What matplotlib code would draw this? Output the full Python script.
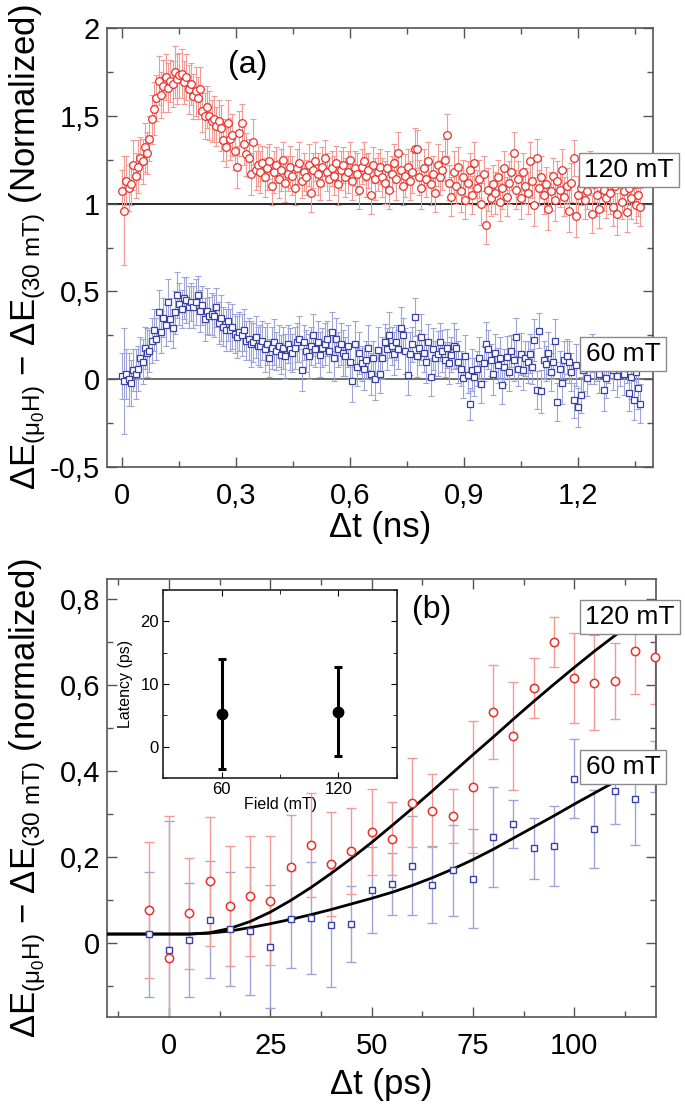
import numpy as np
import matplotlib
matplotlib.use('Agg')
import matplotlib.pyplot as plt
from matplotlib.ticker import MultipleLocator, FuncFormatter

plt.rcParams['font.family'] = ['Liberation Sans', 'DejaVu Sans']
plt.rcParams['mathtext.fontset'] = 'custom'
plt.rcParams['mathtext.rm'] = 'Liberation Sans'
plt.rcParams['mathtext.it'] = 'Liberation Sans'
plt.rcParams['mathtext.bf'] = 'Liberation Sans:bold'
plt.rcParams['mathtext.sf'] = 'Liberation Sans'

# ---------------- Panel (a) data ----------------
red_a = [
    1.07, 0.96, 1.13, 1.09, 1.11, 1.22, 1.16, 1.21, 1.26, 1.24, 1.32, 1.29, 1.37, 1.48, 1.54,
    1.60, 1.70, 1.62, 1.67, 1.72, 1.66, 1.70, 1.68, 1.75, 1.71, 1.73, 1.74, 1.69, 1.72, 1.65,
    1.68, 1.61, 1.64, 1.60, 1.65, 1.53, 1.50, 1.55, 1.50, 1.47, 1.48, 1.44, 1.47, 1.43, 1.36,
    1.32, 1.46, 1.37, 1.39, 1.30, 1.21, 1.40, 1.46, 1.34, 1.28, 1.26, 1.17, 1.35, 1.19, 1.22,
    1.18, 1.23, 1.15, 1.20, 1.24, 1.10, 1.18, 1.22, 1.14, 1.19, 1.25, 1.12, 1.17, 1.21, 1.16,
    1.09, 1.20, 1.23, 1.13, 1.18, 1.15, 1.22, 1.06, 1.19, 1.24, 1.17, 1.12, 1.21, 1.26, 1.18,
    1.14, 1.20, 1.16, 1.23, 1.11, 1.19, 1.22, 1.15, 1.18, 1.25, 1.13, 1.20, 1.17, 1.08, 1.21,
    1.24, 1.16, 1.19, 1.05, 1.22, 1.14, 1.18, 1.21, 1.15, 1.12, 1.20, 1.08, 1.17, 1.23, 1.14,
    1.29, 1.19, 1.10, 1.16, 1.21, 1.13, 1.18, 1.31, 1.31, 1.15, 1.09, 1.20, 1.14, 1.24, 1.11,
    1.17, 1.06, 1.22, 1.15, 1.19, 1.25, 1.39, 1.12, 1.04, 1.18, 1.10, 1.21, 1.07, 1.15, 1.02,
    1.12, 1.19, 1.05, 1.23, 1.09, 1.14, 1.00, 1.17, 0.88, 1.08, 1.03, 1.11, 1.06, 1.15, 1.01,
    1.09, 1.20, 1.04, 1.12, 1.18, 1.29, 1.08, 1.14, 1.03, 1.18, 1.10, 1.06, 1.24, 1.13, 0.99,
    1.26, 1.09, 1.15, 1.05, 1.11, 0.97, 1.07, 1.16, 1.02, 1.13, 1.08, 1.19, 1.04, 1.10, 0.96,
    1.12, 1.26, 0.93, 1.05, 1.09, 1.15, 1.02, 1.07, 1.18, 0.94, 1.11, 1.05, 0.97, 1.13, 1.08,
    1.03, 1.16, 1.06, 0.98, 1.10, 0.94, 1.12, 1.01, 1.07, 0.95, 1.09, 1.03, 1.11, 0.99, 1.05,
    0.98]
red_a_err = [
    0.12, 0.31, 0.14, 0.13, 0.12, 0.14, 0.13, 0.15, 0.12, 0.13, 0.14, 0.12, 0.13, 0.14, 0.15,
    0.13, 0.14, 0.13, 0.15, 0.13, 0.14, 0.12, 0.13, 0.15, 0.14, 0.13, 0.14, 0.12, 0.13, 0.14,
    0.12, 0.13, 0.14, 0.12, 0.13, 0.12, 0.13, 0.12, 0.14, 0.12, 0.13, 0.11, 0.12, 0.13, 0.12,
    0.11, 0.13, 0.12, 0.12, 0.11, 0.12, 0.13, 0.11, 0.12, 0.12, 0.11, 0.12, 0.13, 0.11, 0.12,
    0.12, 0.10, 0.11, 0.12, 0.10, 0.11, 0.12, 0.10, 0.11, 0.12, 0.10, 0.11, 0.10, 0.12, 0.11,
    0.10, 0.11, 0.12, 0.10, 0.11, 0.10, 0.12, 0.11, 0.10, 0.11, 0.12, 0.10, 0.11, 0.10, 0.11,
    0.12, 0.10, 0.11, 0.10, 0.12, 0.11, 0.10, 0.11, 0.12, 0.10, 0.11, 0.10, 0.12, 0.11, 0.10,
    0.11, 0.12, 0.10, 0.11, 0.10, 0.12, 0.11, 0.10, 0.11, 0.12, 0.10, 0.11, 0.10, 0.11, 0.12,
    0.12, 0.10, 0.11, 0.12, 0.10, 0.11, 0.12, 0.12, 0.11, 0.10, 0.12, 0.11, 0.10, 0.11, 0.12,
    0.10, 0.11, 0.12, 0.10, 0.11, 0.12, 0.12, 0.10, 0.11, 0.12, 0.10, 0.11, 0.12, 0.10, 0.11,
    0.12, 0.10, 0.11, 0.12, 0.10, 0.11, 0.12, 0.10, 0.11, 0.12, 0.10, 0.11, 0.12, 0.10, 0.11,
    0.12, 0.10, 0.11, 0.12, 0.10, 0.12, 0.11, 0.10, 0.12, 0.11, 0.10, 0.12, 0.11, 0.10, 0.12,
    0.11, 0.10, 0.12, 0.11, 0.10, 0.12, 0.11, 0.10, 0.12, 0.11, 0.10, 0.12, 0.11, 0.10, 0.12,
    0.11, 0.10, 0.12, 0.11, 0.10, 0.12, 0.11, 0.10, 0.12, 0.11, 0.10, 0.12, 0.11, 0.10, 0.12,
    0.11, 0.10, 0.12, 0.11, 0.10, 0.12, 0.11, 0.10, 0.12, 0.11, 0.10, 0.12, 0.11, 0.10, 0.12,
    0.11]
blue_a = [
    0.02, -0.01, 0.03, 0.00, -0.02, 0.05, 0.03, 0.06, 0.12, 0.10, 0.18, 0.15, 0.16, 0.22, 0.28,
    0.23, 0.38, 0.27, 0.35, 0.31, 0.44, 0.34, 0.29, 0.38, 0.48, 0.43, 0.40, 0.46, 0.45, 0.41,
    0.44, 0.41, 0.44, 0.48, 0.39, 0.42, 0.34, 0.39, 0.36, 0.37, 0.36, 0.41, 0.32, 0.35, 0.30,
    0.28, 0.33, 0.28, 0.30, 0.26, 0.24, 0.27, 0.25, 0.28, 0.22, 0.23, 0.20, 0.21, 0.24, 0.19,
    0.19, 0.22, 0.17, 0.20, 0.12, 0.18, 0.21, 0.16, 0.19, 0.14, 0.18, 0.13, 0.20, 0.17, 0.15,
    0.18, 0.21, 0.23, 0.05, 0.21, 0.16, 0.13, 0.19, 0.25, 0.17, 0.21, 0.14, 0.18, 0.20, 0.23,
    0.16, 0.27, 0.12, 0.23, 0.17, 0.20, 0.15, 0.13, 0.19, 0.10, -0.01, 0.20, 0.07, 0.15, 0.09,
    0.06, 0.11, 0.18, 0.03, 0.12, 0.00, 0.165, 0.032, 0.12, 0.212, 0.17, 0.25, 0.19, 0.146, 0.21,
    0.17, 0.289, 0.25, 0.16, 0.022, 0.146, 0.20, 0.355, 0.13, 0.18, 0.24, 0.15, 0.10, 0.212, 0.013,
    0.17, 0.12, 0.146, 0.212, 0.16, 0.11, 0.175, 0.09, 0.14, 0.19, 0.175, 0.10, 0.06, 0.004, 0.13,
    0.023, -0.14, 0.05, 0.013, 0.06, 0.12, -0.025, 0.09, 0.203, 0.17, 0.11, 0.032, 0.15, 0.08, 0.12,
    -0.034, 0.07, 0.127, 0.042, 0.16, 0.108, 0.24, 0.06, 0.142, 0.05, 0.12, 0.099, 0.146, 0.07, 0.222,
    -0.062, 0.275, -0.07, 0.11, 0.089, 0.15, 0.042, 0.10, 0.22, -0.13, 0.06, -0.024, 0.108, 0.13, 0.099,
    0.04, -0.12, 0.08, -0.16, -0.09, 0.05, 0.12, 0.004, 0.09, 0.15, 0.07, 0.11, 0.03, 0.13, -0.06,
    0.004, 0.08, 0.12, 0.05, 0.10, 0.02, 0.07, 0.14, 0.03, 0.09, -0.08, 0.01, -0.12, 0.04, -0.05,
    -0.14]
blue_a_err = [
    0.13, 0.30, 0.14, 0.15, 0.13, 0.12, 0.14, 0.13, 0.12, 0.13, 0.12, 0.14, 0.12, 0.13, 0.12,
    0.12, 0.13, 0.12, 0.11, 0.12, 0.13, 0.12, 0.11, 0.12, 0.13, 0.12, 0.11, 0.12, 0.13, 0.12,
    0.11, 0.12, 0.13, 0.11, 0.12, 0.11, 0.12, 0.13, 0.11, 0.12, 0.12, 0.11, 0.12, 0.13, 0.11,
    0.12, 0.11, 0.12, 0.13, 0.11, 0.12, 0.11, 0.12, 0.12, 0.11, 0.12, 0.13, 0.11, 0.12, 0.11,
    0.12, 0.11, 0.13, 0.12, 0.11, 0.12, 0.13, 0.11, 0.12, 0.11, 0.12, 0.13, 0.11, 0.12, 0.11,
    0.12, 0.11, 0.13, 0.12, 0.10, 0.12, 0.13, 0.11, 0.12, 0.10, 0.12, 0.13, 0.11, 0.12, 0.10,
    0.12, 0.11, 0.13, 0.12, 0.10, 0.12, 0.13, 0.11, 0.12, 0.10, 0.12, 0.13, 0.11, 0.12, 0.10,
    0.12, 0.11, 0.13, 0.12, 0.10, 0.12, 0.13, 0.11, 0.12, 0.10, 0.12, 0.13, 0.11, 0.12, 0.10,
    0.11, 0.12, 0.10, 0.13, 0.11, 0.12, 0.10, 0.11, 0.12, 0.10, 0.13, 0.11, 0.12, 0.10, 0.11,
    0.12, 0.10, 0.13, 0.11, 0.12, 0.10, 0.11, 0.12, 0.10, 0.13, 0.11, 0.12, 0.10, 0.11, 0.12,
    0.10, 0.09, 0.12, 0.11, 0.10, 0.12, 0.11, 0.10, 0.12, 0.11, 0.09, 0.12, 0.11, 0.10, 0.12,
    0.11, 0.10, 0.12, 0.11, 0.09, 0.12, 0.11, 0.10, 0.12, 0.11, 0.10, 0.12, 0.11, 0.10, 0.12,
    0.11, 0.10, 0.12, 0.11, 0.10, 0.12, 0.11, 0.10, 0.12, 0.11, 0.10, 0.12, 0.11, 0.10, 0.12,
    0.11, 0.10, 0.12, 0.11, 0.10, 0.12, 0.11, 0.10, 0.12, 0.11, 0.10, 0.12, 0.11, 0.10, 0.12,
    0.11, 0.10, 0.12, 0.11, 0.10, 0.12, 0.11, 0.10, 0.12, 0.11, 0.10, 0.12, 0.11, 0.10, 0.12,
    0.11]
t_a_end = 1.365   # ns, last sample time
t_a = np.linspace(0, t_a_end, len(red_a))

# ---------------- Panel (b) data ----------------
t_b = [-5, 0, 5, 10, 15, 20, 25, 30, 35, 40, 45, 50, 55, 60, 65, 70, 75, 80, 85, 90,
       95, 100, 105, 110, 115, 120]
red_b = [0.076, -0.036, 0.068, 0.143, 0.085, 0.109, 0.097, 0.177, 0.227, 0.183, 0.213,
         0.257, 0.242, 0.326, 0.307, 0.294, 0.362, 0.537, 0.481, 0.592, 0.700, 0.616,
         0.605, 0.609, 0.678, 0.665]
red_b_err = [0.158, 0.33, 0.13, 0.15, 0.14, 0.14, 0.15, 0.12, 0.12, 0.12, 0.10, 0.10,
             0.085, 0.104, 0.085, 0.063, 0.154, 0.11, 0.126, 0.07, 0.058, 0.105, 0.11,
             0.089, 0.10, 0.11]
blue_b = [0.019, -0.017, 0.006, 0.053, 0.032, 0.027, -0.009, 0.055, 0.057, 0.041, 0.043,
          0.123, 0.137, 0.179, 0.135, 0.168, 0.149, 0.246, 0.276, 0.220, 0.225, 0.381,
          0.264, 0.353, 0.334, 0.410]
blue_b_err = [0.145, 0.30, 0.133, 0.136, 0.132, 0.148, 0.142, 0.113, 0.13, 0.145, 0.088,
              0.10, 0.072, 0.115, 0.09, 0.106, 0.116, 0.117, 0.056, 0.071, 0.094, 0.092,
              0.09, 0.077, 0.107, 0.06]
fit_t = [-15, -10, -5, 0, 5, 10, 15, 20, 25, 30, 35, 40, 45, 50, 55, 60, 65, 70, 75, 80,
         85, 90, 95, 100, 105, 110, 115, 120]
fit_120 = [0.02, 0.02, 0.02, 0.02, 0.02, 0.023, 0.033, 0.049, 0.071, 0.098, 0.128, 0.161,
           0.196, 0.233, 0.272, 0.312, 0.353, 0.395, 0.437, 0.478, 0.52, 0.561, 0.601,
           0.640, 0.678, 0.714, 0.748, 0.780]
fit_60 = [0.02, 0.02, 0.02, 0.02, 0.02, 0.022, 0.027, 0.035, 0.044, 0.054, 0.065, 0.077,
          0.09, 0.103, 0.117, 0.133, 0.151, 0.171, 0.193, 0.217, 0.243, 0.269, 0.295,
          0.322, 0.348, 0.374, 0.40, 0.426]

# ---------------- Inset data ----------------
field = [60, 120]
latency = [5.2, 5.6]
latency_err = [8.8, 7.1]

RED = '#e8302a'
RED_E = '#f29a94'
BLUE = '#3a40a8'
BLUE_E = '#9ea4d8'
SPINE = '#555555'

W, H = 685, 1109
fig = plt.figure(figsize=(W / 100, H / 100), dpi=100)


def box(l, t, r, b):
    return [l / W, 1 - b / H, (r - l) / W, (b - t) / H]


ax_a = fig.add_axes(box(107, 28, 653, 467))
ax_b = fig.add_axes(box(107, 579, 656, 1017))
ax_in = fig.add_axes(box(163, 590, 397, 778))

comma = FuncFormatter(lambda v, p: f'{v:g}'.replace('.', ','))


def style_main(ax):
    for s in ax.spines.values():
        s.set_color(SPINE)
        s.set_linewidth(1.2)
    ax.tick_params(which='both', direction='in', top=True, right=True,
                   color=SPINE, width=1.0)
    ax.tick_params(which='major', length=7)
    ax.tick_params(which='minor', length=4)
    ax.tick_params(axis='x', labelsize=21, pad=11)
    ax.tick_params(axis='y', labelsize=21, pad=5)
    ax.xaxis.set_major_formatter(comma)
    ax.yaxis.set_major_formatter(comma)


# ---- Panel (a) ----
ax_a.axhline(1, color='black', lw=1.2, zorder=1)
ax_a.axhline(0, color='#555555', lw=1.2, zorder=1)
ax_a.errorbar(t_a, blue_a, yerr=blue_a_err, fmt='none', ecolor=BLUE_E,
              elinewidth=0.8, capsize=2.5, capthick=0.8, zorder=2)
ax_a.plot(t_a, blue_a, 's', ms=5, mfc='white', mec=BLUE, mew=0.9, zorder=3)
ax_a.errorbar(t_a, red_a, yerr=red_a_err, fmt='none', ecolor=RED_E,
              elinewidth=0.8, capsize=2.5, capthick=0.8, zorder=2)
ax_a.plot(t_a, red_a, 'o', ms=5.5, mfc='white', mec=RED, mew=0.9, zorder=3)
ax_a.set_xlim(-0.039, 1.398)
ax_a.set_ylim(-0.5, 2.0)
ax_a.xaxis.set_major_locator(MultipleLocator(0.3))
ax_a.xaxis.set_minor_locator(MultipleLocator(0.15))
ax_a.yaxis.set_major_locator(MultipleLocator(0.5))
ax_a.yaxis.set_minor_locator(MultipleLocator(0.25))
style_main(ax_a)
ax_a.set_xlabel('Δt (ns)', fontsize=25)
ax_a.xaxis.set_label_coords(0.5, -0.10)
ax_a.set_ylabel(r'$\Delta E_{(\mu_0 H)}$ − $\Delta E_{(30\ mT)}$ (Normalized)', fontsize=25)
ax_a.yaxis.set_label_coords((48 - 107) / 546, 0.5)
ax_a.text((248 - 107) / 546, (467 - 65) / 439, '(a)', transform=ax_a.transAxes,
          fontsize=23, ha='center', va='center')

# ---- Panel (b) ----
ax_b.errorbar(t_b, blue_b, yerr=blue_b_err, fmt='none', ecolor=BLUE_E,
              elinewidth=1.0, capsize=3.5, capthick=1.0, zorder=2)
ax_b.errorbar(t_b, red_b, yerr=red_b_err, fmt='none', ecolor=RED_E,
              elinewidth=1.0, capsize=3.5, capthick=1.0, zorder=2)
ax_b.plot(fit_t, fit_120, color='black', lw=2.0, zorder=4)
ax_b.plot(fit_t, fit_60, color='black', lw=2.0, zorder=4)
ax_b.plot(t_b, blue_b, 's', ms=5, mfc='white', mec=BLUE, mew=1.0, zorder=5, clip_on=False)
ax_b.plot(t_b, red_b, 'o', ms=6, mfc='white', mec=RED, mew=1.1, zorder=5, clip_on=False)
ax_b.set_xlim(-15.3, 120.2)
ax_b.set_ylim(-0.173, 0.846)
ax_b.xaxis.set_major_locator(MultipleLocator(25))
ax_b.xaxis.set_minor_locator(MultipleLocator(12.5))
ax_b.yaxis.set_major_locator(MultipleLocator(0.2))
ax_b.yaxis.set_minor_locator(MultipleLocator(0.1))
style_main(ax_b)
ax_b.set_xlabel('Δt (ps)', fontsize=25)
ax_b.xaxis.set_label_coords(0.5, -0.116)
ax_b.set_ylabel(r'$\Delta E_{(\mu_0 H)}$ − $\Delta E_{(30\ mT)}$ (normalized)', fontsize=25)
ax_b.yaxis.set_label_coords((48 - 107) / 549, 0.5)
ax_b.text((432 - 107) / 549, (1017 - 610) / 438, '(b)', transform=ax_b.transAxes,
          fontsize=23, ha='center', va='center')

# ---- Inset ----
ax_in.errorbar(field, latency, yerr=latency_err, fmt='o', color='black', ms=7.5,
               elinewidth=2.2, capsize=3, capthick=2.2, zorder=3)
ax_in.set_xlim(30, 150)
ax_in.set_ylim(-5, 25)
ax_in.set_xticks(field)
ax_in.xaxis.set_minor_locator(MultipleLocator(30))
ax_in.yaxis.set_major_locator(MultipleLocator(10))
ax_in.yaxis.set_minor_locator(MultipleLocator(5))
for s in ax_in.spines.values():
    s.set_color('#222222')
    s.set_linewidth(1.2)
ax_in.tick_params(which='both', direction='in', top=True, right=True, labelsize=12, pad=3)
ax_in.tick_params(which='major', length=4)
ax_in.tick_params(which='minor', length=3)
ax_in.set_xlabel('Field (mT)', fontsize=11.5)
ax_in.xaxis.set_label_coords(0.5, -0.10)
ax_in.set_ylabel('Latency (ps)', fontsize=11.5)
ax_in.yaxis.set_label_coords(-0.13, 0.5)

# ---- boxed field labels ----
bbox = dict(boxstyle='square,pad=0.2', fc='white', ec='#8a8a8a', lw=1.0)
for x, y, s in [(629, 170, '120 mT'), (623, 354, '60 mT'),
                (630, 617, '120 mT'), (623, 767, '60 mT')]:
    fig.text(x / W, 1 - y / H, s, ha='center', va='center', fontsize=19,
             bbox=bbox, zorder=10)

fig.savefig('out.png', dpi=100)
